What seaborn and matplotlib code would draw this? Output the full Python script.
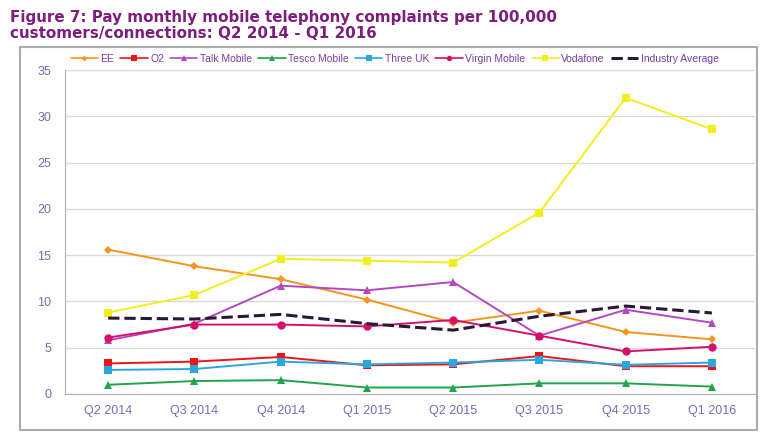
import pandas as pd
import matplotlib
matplotlib.use('Agg')
import matplotlib.pyplot as plt
import seaborn as sns
from matplotlib.patches import Rectangle
from matplotlib.lines import Line2D

# Dados
trimestres = ['Q2 2014', 'Q3 2014', 'Q4 2014', 'Q1 2015', 'Q2 2015', 'Q3 2015', 'Q4 2015', 'Q1 2016']
ee = [15.6, 13.8, 12.4, 10.2, 7.7, 9.0, 6.7, 5.9]
o2 = [3.3, 3.5, 4.0, 3.1, 3.2, 4.1, 3.0, 3.0]
talk_mobile = [5.8, 7.6, 11.7, 11.2, 12.1, 6.3, 9.1, 7.7]
tesco_mobile = [1.0, 1.4, 1.5, 0.7, 0.7, 1.15, 1.15, 0.8]
three_uk = [2.6, 2.7, 3.5, 3.2, 3.4, 3.7, 3.15, 3.4]
virgin_mobile = [6.1, 7.5, 7.5, 7.3, 8.0, 6.3, 4.6, 5.1]
vodafone = [8.8, 10.7, 14.6, 14.4, 14.2, 19.6, 32.0, 28.6]
industry_avg = [8.2, 8.1, 8.6, 7.6, 6.9, 8.4, 9.5, 8.75]

series = {
    'EE': ee,
    'O2': o2,
    'Talk Mobile': talk_mobile,
    'Tesco Mobile': tesco_mobile,
    'Three UK': three_uk,
    'Virgin Mobile': virgin_mobile,
    'Vodafone': vodafone,
    'Industry Average': industry_avg,
}

estilos = {
    'EE': dict(color='#F7941D', marker='D', ms=4.5, ls='-'),
    'O2': dict(color='#F01414', marker='s', ms=6, ls='-'),
    'Talk Mobile': dict(color='#B349C2', marker='^', ms=6, ls='-'),
    'Tesco Mobile': dict(color='#1FA54B', marker='^', ms=6, ls='-'),
    'Three UK': dict(color='#29A8E0', marker='s', ms=6, ls='-'),
    'Virgin Mobile': dict(color='#D6106A', marker='o', ms=6, ls='-'),
    'Vodafone': dict(color='#F2EE1C', marker='s', ms=6, ls='-'),
    'Industry Average': dict(color='#2A1838', marker=None, ms=0, ls='--'),
}

df = pd.DataFrame({'Trimestre': trimestres, **series})
df['pos'] = range(len(trimestres))

sns.set_style('white')
plt.rcParams['font.family'] = ['Liberation Sans', 'DejaVu Sans']

fig = plt.figure(figsize=(7.77, 4.37), dpi=100)
ax = fig.add_axes([0.0837, 0.0984, 0.888, 0.7414])

handles = []
for nome, valores in series.items():
    st = estilos[nome]
    lw = 2.2 if nome == 'Industry Average' else 1.4
    sns.lineplot(x='pos', y=nome, data=df, ax=ax, color=st['color'], linestyle=st['ls'],
                 marker=st['marker'], markersize=st['ms'], markeredgewidth=0,
                 linewidth=lw, legend=False)
    handles.append(Line2D([0], [0], color=st['color'], linestyle=st['ls'], lw=lw if nome == 'Industry Average' else 1.2,
                          marker=st['marker'], markersize=st['ms'] * 0.65, markeredgewidth=0))

ax.set_xlim(-0.5, len(trimestres) - 0.5)
ax.set_ylim(0, 35)
ax.set_yticks(range(0, 36, 5))
ax.set_xticks(range(len(trimestres)))
ax.set_xticklabels(trimestres)
ax.set_xticks([i - 0.5 for i in range(len(trimestres) + 1)], minor=True)
ax.tick_params(axis='x', which='major', length=0, pad=8, labelsize=9, labelcolor='#7D6AAE')
ax.tick_params(axis='x', which='minor', length=4, color='#B0B0B0', direction='out')
ax.tick_params(axis='y', length=4, color='#B0B0B0', direction='out', labelsize=9, labelcolor='#7D6AAE', pad=6)
ax.set_xlabel('')
ax.set_ylabel('')
ax.grid(axis='y', color='#D9D9D9', lw=1)
ax.set_axisbelow(True)
for lado in ['top', 'right']:
    ax.spines[lado].set_visible(False)
for lado in ['left', 'bottom']:
    ax.spines[lado].set_color('#B0B0B0')

fig.legend(handles, list(series.keys()), loc='center', bbox_to_anchor=(0.508, 0.866), ncol=8,
           frameon=False, fontsize=7.5, labelcolor='#7A3F9E', handlelength=2.6,
           handletextpad=0.25, columnspacing=0.6)

fig.patches.append(Rectangle((0.0257, 0.016), 0.9485, 0.8764, transform=fig.transFigure,
                             fill=False, edgecolor='#ABABAB', lw=1.5))

fig.text(0.013, 0.978, 'Figure 7: Pay monthly mobile telephony complaints per 100,000\ncustomers/connections: Q2 2014 - Q1 2016',
         ha='left', va='top', fontsize=10.9, fontweight='bold', color='#7B1E7E', linespacing=1.08,
         family=['DejaVu Sans'])

fig.savefig('out.png', dpi=100)
